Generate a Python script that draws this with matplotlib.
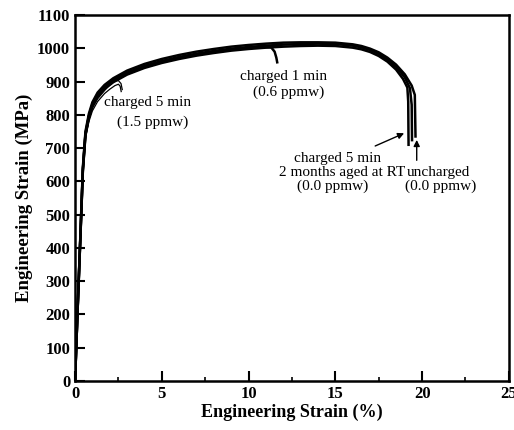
import matplotlib.pyplot as plt

# stress-strain curves (strain %, stress MPa)
strain_aged1 = [0, 0.15, 0.3, 0.45, 0.6, 0.8, 1.0, 1.3, 1.7, 2.2, 3, 4, 5, 6, 7, 8, 9, 10, 11, 12, 13, 14, 15, 16, 16.5, 17, 17.5, 18, 18.5, 18.9, 19.15, 19.2, 19.22]
stress_aged1 = [0, 215, 420, 630, 738, 792, 826, 855, 878, 898, 921, 941, 956, 968, 978, 986, 993, 998, 1002, 1005, 1007, 1008, 1007, 1002, 997, 989, 977, 960, 936, 908, 882, 840, 710]

strain_aged2 = [0, 0.15, 0.3, 0.45, 0.6, 0.8, 1.0, 1.3, 1.7, 2.2, 3, 4, 5, 6, 7, 8, 9, 10, 11, 12, 13, 14, 15, 16, 16.5, 17, 17.5, 18, 18.5, 19.0, 19.3, 19.4, 19.42]
stress_aged2 = [0, 218, 424, 636, 744, 798, 832, 861, 884, 904, 927, 947, 962, 974, 984, 992, 999, 1004, 1008, 1011, 1013, 1014, 1013, 1008, 1003, 995, 983, 966, 944, 913, 880, 830, 724]

strain_unch = [0, 0.15, 0.3, 0.45, 0.6, 0.8, 1.0, 1.3, 1.7, 2.2, 3, 4, 5, 6, 7, 8, 9, 10, 11, 12, 13, 14, 15, 16, 16.5, 17, 17.5, 18, 18.5, 19.0, 19.4, 19.58, 19.62]
stress_unch = [0, 220, 428, 642, 750, 804, 838, 867, 890, 910, 933, 953, 968, 980, 990, 998, 1005, 1010, 1014, 1017, 1018, 1018, 1017, 1012, 1007, 999, 988, 972, 951, 922, 888, 860, 735]

strain_1min = [0, 0.15, 0.3, 0.45, 0.6, 0.8, 1.0, 1.3, 1.7, 2.2, 3, 4, 5, 6, 7, 8, 9, 10, 11, 11.3, 11.5, 11.6, 11.65]
stress_1min = [0, 217, 422, 633, 741, 795, 829, 858, 881, 901, 924, 944, 959, 971, 981, 989, 996, 1001, 1004, 1003, 990, 972, 958]

strain_5min_a = [0, 0.15, 0.3, 0.45, 0.6, 0.8, 1.0, 1.3, 1.7, 2.0, 2.3, 2.5, 2.65, 2.72]
stress_5min_a = [0, 212, 415, 625, 735, 786, 820, 848, 873, 890, 902, 903, 894, 876]

strain_5min_b = [0, 0.15, 0.3, 0.45, 0.6, 0.8, 1.0, 1.3, 1.7, 2.0, 2.3, 2.5, 2.6, 2.66]
stress_5min_b = [0, 210, 412, 620, 730, 780, 812, 840, 864, 877, 888, 892, 886, 870]

x_ticks = [0, 5, 10, 15, 20, 25]
y_ticks = list(range(0, 1101, 100))

plt.rcParams['font.family'] = ['Liberation Serif', 'DejaVu Serif']

fig = plt.figure(figsize=(5.14, 4.3), dpi=100)
ax = fig.add_axes([0.146, 0.114, 0.844, 0.851])

for s, t in [(strain_aged1, stress_aged1), (strain_aged2, stress_aged2),
             (strain_unch, stress_unch), (strain_1min, stress_1min)]:
    ax.plot(s, t, color='black', lw=1.8, solid_joinstyle='round')
for s, t in [(strain_5min_a, stress_5min_a), (strain_5min_b, stress_5min_b)]:
    ax.plot(s, t, color='black', lw=0.9)

ax.set_xlim(0, 25)
ax.set_ylim(0, 1100)
ax.set_xticks(x_ticks)
ax.set_xticks([2.5, 7.5, 12.5, 17.5, 22.5], minor=True)
ax.set_yticks(y_ticks)
ax.tick_params(axis='both', which='major', direction='in', length=7, width=1.5, labelsize=12)
ax.tick_params(axis='x', which='minor', direction='in', length=3, width=1.2)
for lab in ax.get_xticklabels() + ax.get_yticklabels():
    lab.set_fontweight('bold')
for sp in ax.spines.values():
    sp.set_linewidth(1.8)

ax.set_xlabel('Engineering Strain (%)', fontsize=13, fontweight='bold', labelpad=1)
ax.set_ylabel('Engineering Strain (MPa)', fontsize=13.5, fontweight='bold', labelpad=3)

fs = 11
ax.text(4.2, 836, 'charged 5 min', fontsize=fs, ha='center', va='center')
ax.text(4.45, 778, '(1.5 ppmw)', fontsize=fs, ha='center', va='center')
ax.text(12.0, 914, 'charged 1 min', fontsize=fs, ha='center', va='center')
ax.text(12.3, 869, '(0.6 ppmw)', fontsize=fs, ha='center', va='center')
ax.text(15.13, 670, 'charged 5 min', fontsize=fs, ha='center', va='center')
ax.text(15.4, 628, '2 months aged at RT', fontsize=fs, ha='center', va='center')
ax.text(14.84, 586, '(0.0 ppmw)', fontsize=fs, ha='center', va='center')
ax.text(20.96, 628, 'uncharged', fontsize=fs, ha='center', va='center')
ax.text(21.07, 586, '(0.0 ppmw)', fontsize=fs, ha='center', va='center')

arrow = dict(arrowstyle='-|>', color='black', lw=1.0, mutation_scale=9)
ax.annotate('', xy=(19.11, 748), xytext=(17.15, 703), arrowprops=arrow)
ax.annotate('', xy=(19.69, 733), xytext=(19.69, 655), arrowprops=arrow)

fig.savefig('out.png', dpi=100)
